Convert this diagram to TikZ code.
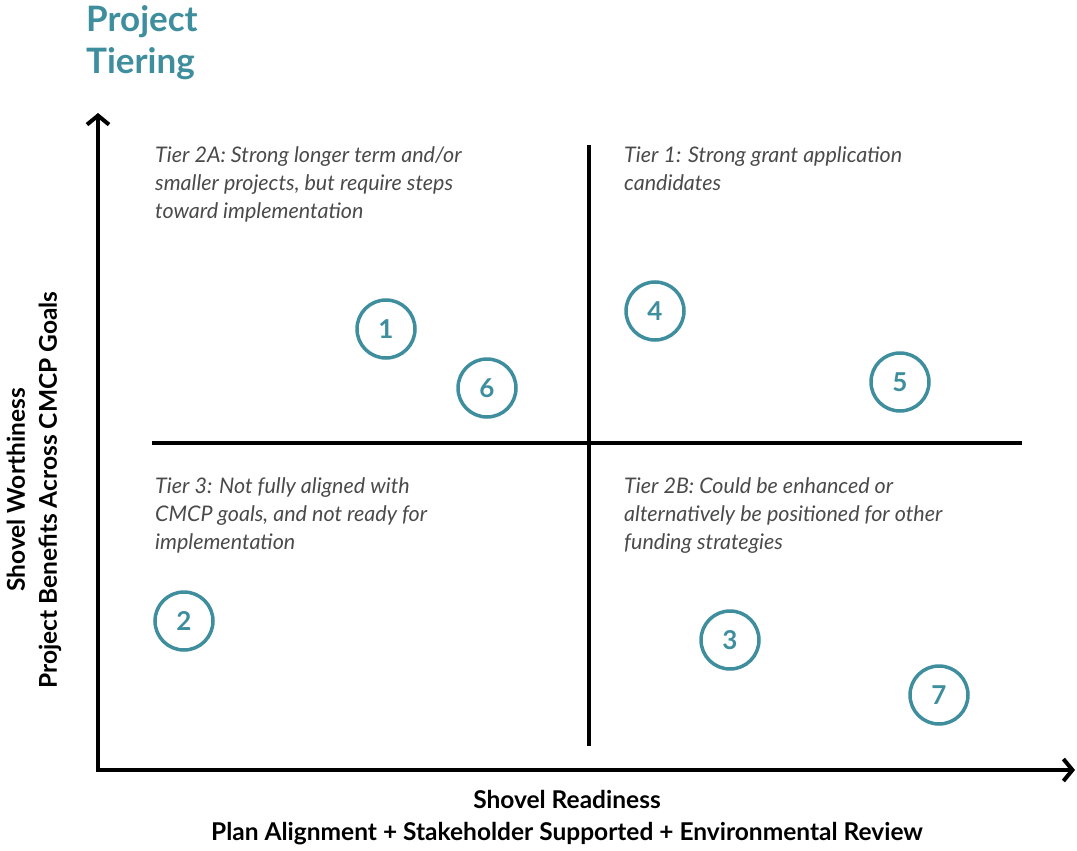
\documentclass[tikz,border=0pt]{standalone}
\usepackage{fontspec}
\setmainfont{Lato}
\usetikzlibrary{arrows.meta,positioning}
\definecolor{tierteal}{HTML}{3E8E9E}
\definecolor{notegray}{HTML}{4A4A4A}

\begin{document}
\begin{tikzpicture}[x=1pt, y=-1pt,
  axis/.style={line width=4pt, -{Straight Barb[length=9pt, width=22pt]}},
  split/.style={line width=4pt},
  proj/.style={circle, draw=tierteal, line width=3.5pt, minimum size=58pt, inner sep=0pt,
    text=tierteal, font=\fontsize{26}{26}\selectfont\bfseries},
  note/.style={anchor=north west, inner sep=0pt, align=left, text=notegray,
    font=\fontsize{21.5}{28}\selectfont\itshape},
  axislabel/.style={align=center, font=\fontsize{24.5}{32}\selectfont\bfseries}]
  \useasboundingbox (0,0) rectangle (1077,851);

  % title
  \node[anchor=north west, inner sep=0pt, align=left, text=tierteal,
    font=\fontsize{35}{42}\selectfont\bfseries] (title) at (86,5) {Project\\Tiering};

  % axes
  \coordinate (origin) at (98,770);
  \coordinate (ytip) at (98,113);
  \coordinate (xtip) at (1075,770);
  \draw[axis] (98,772) -- (ytip);
  \draw[axis] (96,770) -- (xtip);

  % quadrant split lines
  \coordinate (vtop) at (589,145);
  \coordinate (vbot) at (589,746);
  \coordinate (hleft) at (152,443);
  \coordinate (hright) at (1022,443);
  \draw[split] (vtop) -- (vbot);
  \draw[split] (hleft) -- (hright);

  % quadrant notes
  \node[note] (tierTwoA) at (155,146) {Tier 2A: Strong longer term and/or\\smaller projects, but require steps\\toward implementation};
  \node[note] (tierOne) at (624,146) {Tier 1: Strong grant application\\candidates};
  \node[note] (tierThree) at (155,477) {Tier 3: Not fully aligned with\\CMCP goals, and not ready for\\implementation};
  \node[note] (tierTwoB) at (624,477) {Tier 2B: Could be enhanced or\\alternatively be positioned for other\\funding strategies};

  % projects
  \node[proj] (p1) at (386,329) {1};
  \node[proj] (p6) at (487,388) {6};
  \node[proj] (p4) at (655,311) {4};
  \node[proj] (p5) at (900,382) {5};
  \node[proj] (p2) at (184,621) {2};
  \node[proj] (p3) at (730,640) {3};
  \node[proj] (p7) at (939,695) {7};

  % axis labels
  \node[axislabel, rotate=90] (yLabel) at (34,490) {Shovel Worthiness\\Project Benefits Across CMCP Goals};
  \node[axislabel] (xLabel) at (567,818) {Shovel Readiness\\Plan Alignment + Stakeholder Supported + Environmental Review};
\end{tikzpicture}
\end{document}
